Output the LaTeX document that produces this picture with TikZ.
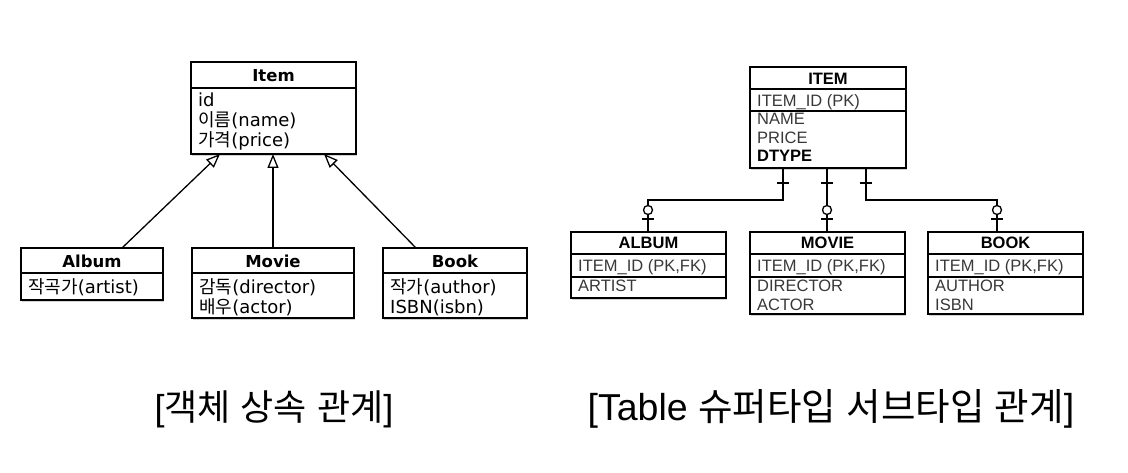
\documentclass[tikz,border=0pt]{standalone}
\usepackage{fontspec}
\setmainfont{Liberation Sans}
\newfontfamily\dv{DejaVu Sans}
\newfontfamily\kr{Noto Sans CJK KR}
\usetikzlibrary{arrows.meta,shadows}
\definecolor{attrgray}{HTML}{383838}
\begin{document}
\begin{tikzpicture}[x=1pt,y=-1pt,
  box/.style={draw=black, line width=1.4pt, fill=white, inner sep=0pt, outer sep=0pt,
    drop shadow={shadow xshift=1.2pt, shadow yshift=-1.6pt, opacity=0.35}},
  div/.style={line width=1.3pt},
  ltitle/.style={font=\dv\bfseries\fontsize{16.5}{19}\selectfont, anchor=base, inner sep=0pt},
  lattr/.style={font=\dv\fontsize{18}{21}\selectfont, anchor=base west, inner sep=0pt},
  rtitle/.style={font=\bfseries\fontsize{16.5}{19}\selectfont, anchor=base, inner sep=0pt},
  rattr/.style={font=\fontsize{16.5}{20}\selectfont, text=attrgray, anchor=base west, inner sep=0pt},
  rkey/.style={font=\bfseries\fontsize{16.5}{20}\selectfont, anchor=base west, inner sep=0pt},
  inh/.style={line width=1.3pt, -{Triangle[open, length=14pt, width=11pt, line width=1.3pt]}},
  rel/.style={line width=1.3pt},
  captionA/.style={font=\fontsize{36}{42}\selectfont, anchor=base, inner sep=0pt},
  captionB/.style={font=\fontsize{37.5}{42}\selectfont, anchor=base, inner sep=0pt}]
\useasboundingbox (0,0) rectangle (1128,473);
\fill[white] (0,0) rectangle (1128,473);

% ---------- left: object inheritance ----------
\node[box, minimum width=165pt, minimum height=92pt, anchor=north west] (item) at (191,62) {};
\draw[div] (item.west |- 0,88) -- (item.east |- 0,88);
\node[ltitle] (itemt) at (273.5,82) {Item};
\node[lattr] (itema1) at (198,107) {id};
\node[lattr] (itema2) at (198,127) {{\kr 이름}(name)};
\node[lattr] (itema3) at (198,147) {{\kr 가격}(price)};

\node[box, minimum width=142pt, minimum height=52pt, anchor=north west] (album) at (21,248) {};
\draw[div] (album.west |- 0,273) -- (album.east |- 0,273);
\node[ltitle] (albumt) at (92,268) {Album};
\node[lattr] (albuma1) at (28,294) {{\kr 작곡가}(artist)};

\node[box, minimum width=162pt, minimum height=70pt, anchor=north west] (movie) at (192,248) {};
\draw[div] (movie.west |- 0,273) -- (movie.east |- 0,273);
\node[ltitle] (moviet) at (273,268) {Movie};
\node[lattr] (moviea1) at (199,294) {{\kr 감독}(director)};
\node[lattr] (moviea2) at (199,314) {{\kr 배우}(actor)};

\node[box, minimum width=144pt, minimum height=70pt, anchor=north west] (book) at (383,248) {};
\draw[div] (book.west |- 0,273) -- (book.east |- 0,273);
\node[ltitle] (bookt) at (455,268) {Book};
\node[lattr] (booka1) at (390,294) {{\kr 작가}(author)};
\node[lattr] (booka2) at (390,314) {ISBN(isbn)};

\draw[inh] (album.north -| 122,0) -- (item.south -| 220,0);
\draw[inh] (movie.north -| 273,0) -- (item.south -| 273,0);
\draw[inh] (book.north -| 416,0) -- (item.south -| 324,0);

% ---------- right: table supertype / subtype ----------
\node[box, minimum width=156pt, minimum height=101pt, anchor=north west] (itemT) at (750,67) {};
\draw[div] (itemT.west |- 0,89) -- (itemT.east |- 0,89);
\draw[div] (itemT.west |- 0,111) -- (itemT.east |- 0,111);
\node[rtitle] (itemTt) at (828,85) {ITEM};
\node[rattr] (itemTa1) at (757,107) {ITEM\_ID (PK)};
\node[rattr] (itemTa2) at (757,125) {NAME};
\node[rattr] (itemTa3) at (757,144) {PRICE};
\node[rkey] (itemTa4) at (757,162) {DTYPE};

\node[box, minimum width=155pt, minimum height=66pt, anchor=north west] (albumT) at (571,232) {};
\draw[div] (albumT.west |- 0,254) -- (albumT.east |- 0,254);
\draw[div] (albumT.west |- 0,277) -- (albumT.east |- 0,277);
\node[rtitle] (albumTt) at (648.5,249) {ALBUM};
\node[rattr] (albumTa1) at (578,272) {ITEM\_ID (PK,FK)};
\node[rattr] (albumTa2) at (578,292) {ARTIST};

\node[box, minimum width=155pt, minimum height=82pt, anchor=north west] (movieT) at (750,232) {};
\draw[div] (movieT.west |- 0,254) -- (movieT.east |- 0,254);
\draw[div] (movieT.west |- 0,277) -- (movieT.east |- 0,277);
\node[rtitle] (movieTt) at (827.5,249) {MOVIE};
\node[rattr] (movieTa1) at (757,272) {ITEM\_ID (PK,FK)};
\node[rattr] (movieTa2) at (757,291) {DIRECTOR};
\node[rattr] (movieTa3) at (757,310) {ACTOR};

\node[box, minimum width=155pt, minimum height=82pt, anchor=north west] (bookT) at (928,232) {};
\draw[div] (bookT.west |- 0,254) -- (bookT.east |- 0,254);
\draw[div] (bookT.west |- 0,277) -- (bookT.east |- 0,277);
\node[rtitle] (bookTt) at (1005.5,249) {BOOK};
\node[rattr] (bookTa1) at (935,272) {ITEM\_ID (PK,FK)};
\node[rattr] (bookTa2) at (935,291) {AUTHOR};
\node[rattr] (bookTa3) at (935,310) {ISBN};

% relationship lines
\draw[rel] (itemT.south -| 783,0) -- (783,200) -| (albumT.north -| 648,0);
\draw[rel] (itemT.south -| 827,0) -- (movieT.north -| 827,0);
\draw[rel] (itemT.south -| 866,0) -- (866,200) -| (bookT.north -| 997,0);
% one-mandatory ticks at ITEM side
\foreach \x in {783,827,866} \draw[rel] (\x-6,183) -- (\x+6,183);
% zero-or-one at subtype side
\foreach \x in {648,827,997} {
  \draw[rel] (\x-6,219) -- (\x+6,219);
  \draw[rel, fill=white] (\x,210) circle[radius=4.5pt];
}

% ---------- captions ----------
\node[captionA] (cap1) at (274,420) {[{\kr 객체} {\kr 상속} {\kr 관계}]};
\node[captionB] (cap2) at (831,420) {[Table {\kr 슈퍼타입} {\kr 서브타입} {\kr 관계}]};
\end{tikzpicture}
\end{document}
